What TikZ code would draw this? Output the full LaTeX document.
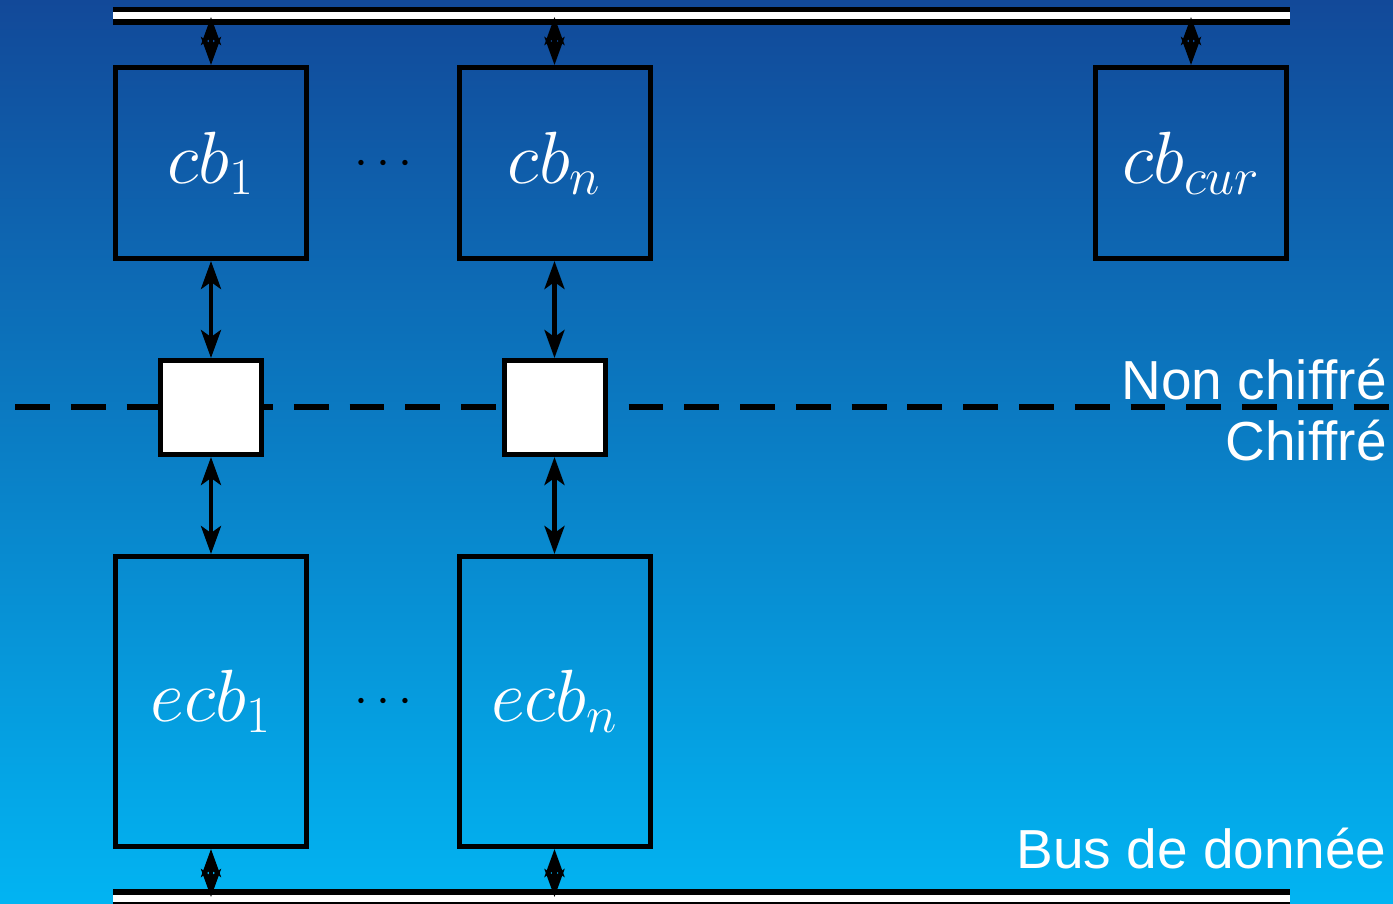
\RequirePackage{fix-cm}
\documentclass[tikz,border=0pt]{standalone}
\usepackage{fontspec}
\newfontfamily\labelfont{Liberation Sans}
\usetikzlibrary{arrows.meta}

\definecolor{bgtop}{RGB}{18,73,153}
\definecolor{bgbot}{RGB}{2,180,242}

\tikzset{
  blk/.style={draw=black, line width=2.5pt, inner sep=0pt, text=white,
    minimum width=95.5pt, font=\fontsize{37}{42}\selectfont},
  cbbox/.style={blk, minimum height=95.5pt},
  ecbbox/.style={blk, minimum height=145pt},
  gate/.style={draw=black, fill=white, line width=2.5pt, inner sep=0pt,
    minimum width=50.5pt, minimum height=47pt},
  tip/.tip={Stealth[length=14pt, width=10pt, inset=3.5pt]},
  link/.style={line width=2.2pt, tip-tip},
  bus/.style={draw=black, line width=2.75pt, double=white, double distance=3.5pt},
  zone/.style={font=\labelfont\fontsize{27.5}{30}\selectfont, text=white,
    inner sep=0pt, anchor=base east},
  boundary/.style={dash pattern=on 17.4pt off 10.49pt, line width=2.6pt},
  dots/.style={font=\fontsize{25}{30}\selectfont, text=black, inner sep=0pt, anchor=base}
}

\begin{document}
\begin{tikzpicture}[x=0.5pt, y=-0.5pt]
  % canvas with vertical gradient
  \useasboundingbox (0,0) rectangle (1393,904);
  \clip (0,0) rectangle (1393,904);
  \fill[top color=bgtop, bottom color=bgbot] (0,0) rectangle (1393,904);

  % data buses
  \draw[bus] (113,16) -- (1290,16);
  \draw[bus] (113,898) -- (1290,898);

  % plain / ciphered boundary
  \draw[boundary] (15,407) -- (1389,407);
  \node[zone] (plain) at (1387,399) {Non chiffré};
  \node[zone] (ciph) at (1387,460) {Chiffré};
  \node[zone] (busname) at (1387,868) {Bus de donnée};

  % clear blocks
  \node[cbbox] (cb1) at (211,163) {$cb_1$};
  \node[cbbox] (cbn) at (554.5,163) {$cb_n$};
  \node[cbbox] (cbcur) at (1191,163) {$cb_{cur}$};
  \node[dots] (dtop) at (383.5,175.5) {$\cdots$};

  % crypto gates
  \node[gate] (g1) at (211,407.5) {};
  \node[gate] (gn) at (554.5,407.5) {};

  % encrypted blocks
  \node[ecbbox] (ecb1) at (211,701.5) {$ecb_1$};
  \node[ecbbox] (ecbn) at (554.5,701.5) {$ecb_n$};
  \node[dots] (dbot) at (383.5,713.5) {$\cdots$};

  % bus taps
  \coordinate (t1) at (211,17);
  \coordinate (tn) at (554.5,17);
  \coordinate (tcur) at (1191,17);
  \coordinate (b1) at (211,897);
  \coordinate (bn) at (554.5,897);

  \draw[link] (t1) -- (cb1);
  \draw[link] (tn) -- (cbn);
  \draw[link] (tcur) -- (cbcur);
  \draw[link] (cb1) -- (g1);
  \draw[link] (cbn) -- (gn);
  \draw[link] (g1) -- (ecb1);
  \draw[link] (gn) -- (ecbn);
  \draw[link] (ecb1) -- (b1);
  \draw[link] (ecbn) -- (bn);
\end{tikzpicture}
\end{document}
